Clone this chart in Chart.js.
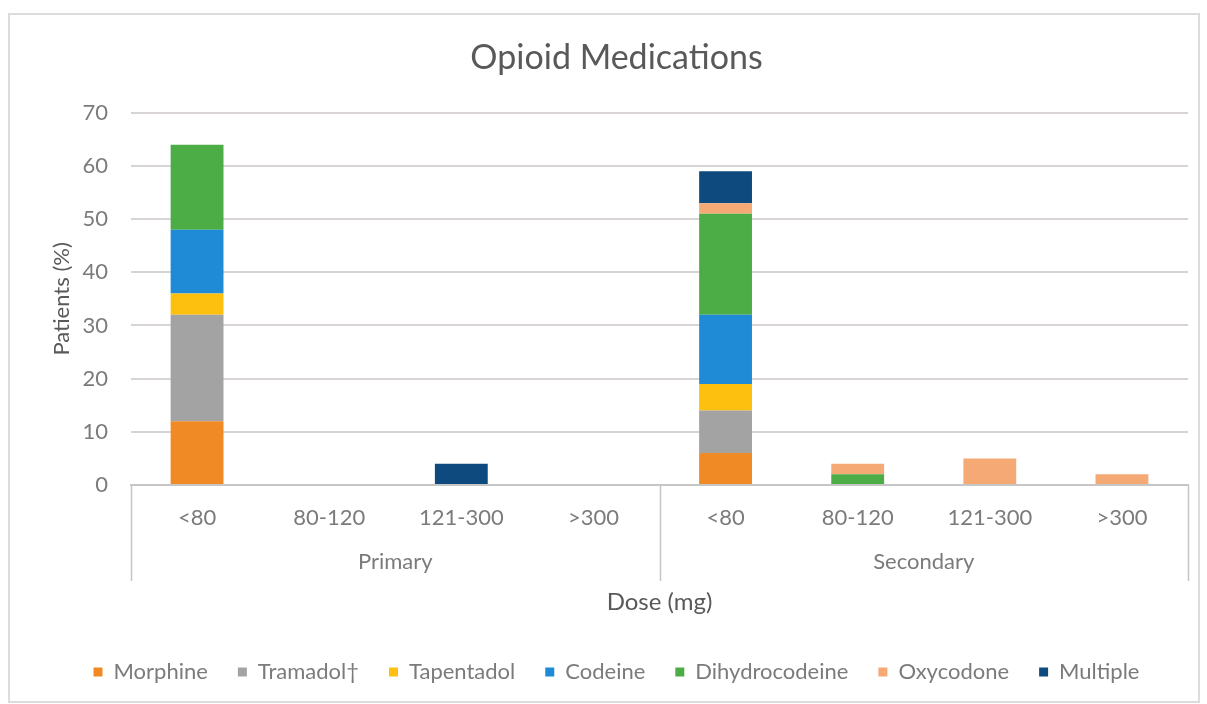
<!DOCTYPE html>
<html>
<head>
<meta charset="utf-8">
<script src="https://cdn.jsdelivr.net/npm/chart.js@4"></script>
<style>
  html, body { margin: 0; padding: 0; background: #fff; }
  #wrap { position: relative; width: 1207px; height: 704px; }
  #frame {
    position: absolute; left: 8px; top: 13px; width: 1192px; height: 690px;
    border: 2px solid #dcdcdc; box-sizing: border-box;
  }
  #myChart { position: absolute; left: 0; top: 0; }
</style>
</head>
<body>
<div id="wrap">
  <div id="frame"></div>
  <canvas id="myChart" width="1207" height="704"></canvas>
</div>
<script>
const doseLabels = ["<80", "80-120", "121-300", ">300", "<80", "80-120", "121-300", ">300"];
const groupLabels = ["Primary", "Secondary"];
const yTicks = [0, 10, 20, 30, 40, 50, 60, 70];

const morphine = [12, 0, 0, 0, 6, 0, 0, 0];
const tramadol = [20, 0, 0, 0, 8, 0, 0, 0];
const tapentadol = [4, 0, 0, 0, 5, 0, 0, 0];
const codeine = [12, 0, 0, 0, 13, 0, 0, 0];
const dihydrocodeine = [16, 0, 0, 0, 19, 2, 0, 0];
const oxycodone = [0, 0, 0, 0, 2, 2, 5, 2];
const multiple = [0, 0, 4, 0, 6, 0, 0, 0];

const font = "Lato";
const tickColor = "#7b7b7b";

// vertical separators of the two-level category axis
const groupLines = {
  id: "groupLines",
  afterDraw(chart) {
    const x = chart.scales.x;
    const x2 = chart.scales.x2;
    const ctx = chart.ctx;
    const top = chart.chartArea.bottom;
    const bottom = x2.top + 50;
    ctx.save();
    ctx.strokeStyle = "#c6c6c6";
    ctx.lineWidth = 1.5;
    [-0.5, 3.5, 7.5].forEach((v) => {
      const px = Math.round(x.getPixelForValue(v)) + 0.5;
      ctx.beginPath();
      ctx.moveTo(px, top);
      ctx.lineTo(px, bottom);
      ctx.stroke();
    });
    ctx.restore();
  },
};

const datasets = [
  { label: "Morphine", data: morphine, backgroundColor: "#f08a24" },
  { label: "Tramadol\u2020", data: tramadol, backgroundColor: "#a3a3a3" },
  { label: "Tapentadol", data: tapentadol, backgroundColor: "#fdc00f" },
  { label: "Codeine", data: codeine, backgroundColor: "#1f8bd6" },
  { label: "Dihydrocodeine", data: dihydrocodeine, backgroundColor: "#4cad47" },
  { label: "Oxycodone", data: oxycodone, backgroundColor: "#f5aa76" },
  { label: "Multiple", data: multiple, backgroundColor: "#0f4a7e" },
].map((d) => ({ ...d, borderWidth: 0, barPercentage: 0.4, categoryPercentage: 1 }));

const ctx = document.getElementById("myChart").getContext("2d");
new Chart(ctx, {
  type: "bar",
  data: { labels: doseLabels, datasets: datasets },
  plugins: [groupLines],
  options: {
    responsive: false,
    animation: false,
    layout: { padding: { left: 45, right: 19, top: 14, bottom: 11 } },
    scales: {
      y: {
        stacked: true,
        min: 0,
        max: 70,
        afterBuildTicks: (scale) => {
          scale.ticks = yTicks.map((v) => ({ value: v }));
        },
        afterFit: (scale) => {
          scale.width = 86;
        },
        ticks: { color: tickColor, padding: 23, font: { family: font, size: 22 } },
        grid: { color: "#d9d4d4", lineWidth: 2, drawTicks: false },
        border: { display: false },
        title: {
          display: true,
          text: "Patients (%)",
          color: "#595959",
          padding: { top: 4, bottom: 0 },
          font: { family: font, size: 22 },
        },
      },
      x: {
        stacked: true,
        afterFit: (scale) => {
          scale.height = 46;
        },
        ticks: { color: tickColor, padding: 20, maxRotation: 0, font: { family: font, size: 22 } },
        grid: { display: false, drawTicks: false, tickLength: 0 },
        border: { display: true, color: "#c6c6c6", width: 2 },
      },
      x2: {
        type: "category",
        position: "bottom",
        labels: groupLabels,
        offset: true,
        afterFit: (scale) => {
          scale.height = 100;
        },
        ticks: { color: tickColor, padding: 18, font: { family: font, size: 22 } },
        grid: { display: false, drawTicks: false, tickLength: 0 },
        border: { display: false },
        title: {
          display: true,
          text: "Dose (mg)",
          color: "#595959",
          padding: { top: 12, bottom: 14 },
          font: { family: font, size: 24 },
        },
      },
    },
    plugins: {
      title: {
        display: true,
        text: "Opioid Medications",
        color: "#595959",
        padding: { top: 24, bottom: 34 },
        font: { family: font, size: 34, weight: "normal" },
      },
      legend: {
        position: "bottom",
        labels: {
          boxWidth: 9,
          boxHeight: 9,
          padding: 30,
          color: tickColor,
          font: { family: font, size: 22 },
        },
      },
      tooltip: { enabled: false },
    },
  },
});
</script>
</body>
</html>
